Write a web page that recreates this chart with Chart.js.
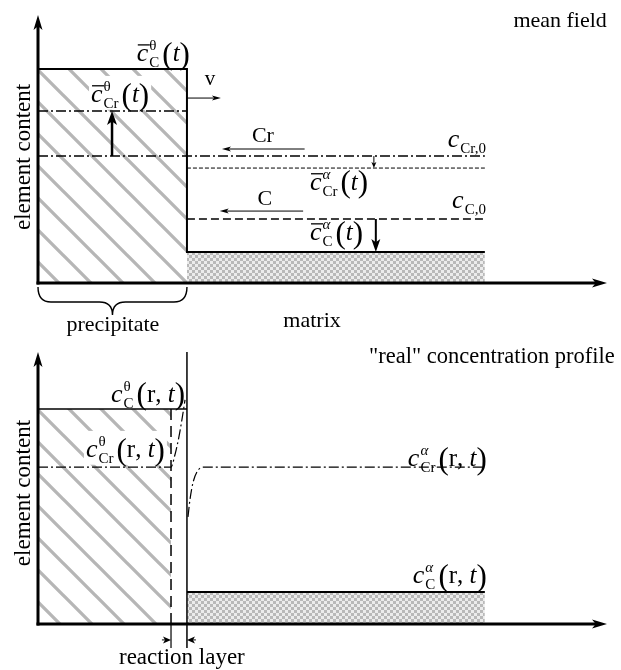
<!DOCTYPE html>
<html>
<head>
<meta charset="utf-8">
<script src="https://cdn.jsdelivr.net/npm/chart.js@4.4.1/dist/chart.umd.min.js"></script>
<style>
  html, body { margin: 0; padding: 0; background: #fff; }
  canvas { display: block; }
</style>
</head>
<body>
<canvas id="meanChart" width="621" height="340"></canvas>
<canvas id="realChart" width="621" height="330"></canvas>
<script>
// --- DATA ---
// x: distance (0..1 = precipitate, 1..3 = matrix), y: element content (precipitate C level = 1)
const xAxisMax = 3.82;
const meanYMax = 1.252;
const realYMax = 1.265;

// mean field panel
const meanProfileX = [0, 1, 1, 3];
const meanProfileY = [1, 1, 0.145, 0.145];
const meanPrecipX = [0, 1];
const meanPrecipY = [1, 1];
const meanMatrixX = [1, 3];
const meanMatrixY = [0.145, 0.145];
const meanCrThetaX = [0, 1];
const meanCrThetaY = [0.804, 0.804];
const crInitialX = [0, 3];
const crInitialY = [0.593, 0.593];
const meanCrAlphaX = [1, 3];
const meanCrAlphaY = [0.537, 0.537];
const cInitialX = [1, 3];
const cInitialY = [0.299, 0.299];

// "real" concentration profile panel
const realTopX = [0, 1];
const realTopY = [1, 1];
const realHatchX = [0, 0.893];
const realHatchY = [1, 1];
const interfaceX = [1, 1];
const interfaceY = [-0.112, 1.265];
const reactionX = [0.893, 0.893];
const reactionY = [0, 1];
const reactionTickX = [0.893, 0.893];
const reactionTickY = [0, -0.112];
const realMatrixX = [1, 3];
const realMatrixY = [0.149, 0.149];
const realCrThetaX = [0, 0.893, 0.919, 0.946, 0.966, 0.987];
const realCrThetaY = [0.73, 0.73, 0.786, 0.87, 0.949, 1.042];
const realCrAlphaX = [1.007, 1.02, 1.04, 1.067, 1.107, 3];
const realCrAlphaY = [0.498, 0.577, 0.656, 0.707, 0.73, 0.73];

const SERIF = '"Liberation Serif", "Times New Roman", serif';
const DASH_DOT = [10, 3, 2, 3];

function pts(xs, ys) {
  return xs.map((x, i) => ({ x: x, y: ys[i] }));
}

// --- PATTERNS ---
function hatchPattern() {
  const c = document.createElement('canvas');
  c.width = 32; c.height = 32;
  const g = c.getContext('2d');
  g.strokeStyle = '#b6b6b6';
  g.lineWidth = 3.3;
  g.beginPath();
  [-32, 0, 32].forEach(k => { g.moveTo(k - 4, -4); g.lineTo(k + 36, 36); });
  g.stroke();
  return g.createPattern(c, 'repeat');
}

function checkerPattern() {
  const c = document.createElement('canvas');
  c.width = 6; c.height = 6;
  const g = c.getContext('2d');
  g.fillStyle = '#ececec';
  g.fillRect(0, 0, 6, 6);
  g.fillStyle = '#b9b9b9';
  g.fillRect(0, 0, 3, 3);
  g.fillRect(3, 3, 3, 3);
  return g.createPattern(c, 'repeat');
}

const hatch = hatchPattern();
const checker = checkerPattern();

function line(xs, ys, width, dash, extra) {
  return Object.assign({
    data: pts(xs, ys),
    borderColor: '#000',
    borderWidth: width,
    borderDash: dash || [],
    pointRadius: 0,
    fill: false,
    tension: 0,
    order: 0
  }, extra || {});
}

function area(xs, ys, pattern) {
  return {
    data: pts(xs, ys),
    borderColor: 'rgba(0,0,0,0)',
    borderWidth: 0,
    backgroundColor: pattern,
    pointRadius: 0,
    fill: 'origin',
    order: 5
  };
}

// --- DRAWING HELPERS ---
function drawArrow(ctx, x1, y1, x2, y2, w, len, half) {
  const dx = x2 - x1, dy = y2 - y1, d = Math.hypot(dx, dy);
  const ux = dx / d, uy = dy / d;
  ctx.lineWidth = w;
  ctx.setLineDash([]);
  ctx.beginPath();
  ctx.moveTo(x1, y1);
  ctx.lineTo(x2 - ux * len * 0.7, y2 - uy * len * 0.7);
  ctx.stroke();
  ctx.beginPath();
  ctx.moveTo(x2, y2);
  ctx.lineTo(x2 - ux * len - uy * half, y2 - uy * len + ux * half);
  ctx.lineTo(x2 - ux * len * 0.75, y2 - uy * len * 0.75);
  ctx.lineTo(x2 - ux * len + uy * half, y2 - uy * len - ux * half);
  ctx.closePath();
  ctx.fill();
}

// concentration symbol: c (bar) ^sup _sub (args)
function drawConc(ctx, x, y, L) {
  const s = L.size || 26;
  const fC = `italic ${s}px ${SERIF}`;
  const fSub = `${Math.round(s * 0.56)}px ${SERIF}`;
  const fSup = `${L.supItalic ? 'italic ' : ''}${Math.round(s * 0.56)}px ${SERIF}`;
  const fPar = `${Math.round(s * 1.18)}px ${SERIF}`;
  const fArg = it => `${it ? 'italic ' : ''}${Math.round(s * 0.98)}px ${SERIF}`;

  ctx.font = fC;
  const wc = ctx.measureText('c').width;
  ctx.font = fSub;
  const wsub = L.sub ? ctx.measureText(L.sub).width : 0;
  ctx.font = fSup;
  const wsup = L.sup ? ctx.measureText(L.sup).width : 0;
  const wScript = Math.max(wsub, wsup);

  const parts = [];
  let wArg = 0;
  if (L.arg) {
    parts.push({ t: '(', f: fPar, dy: s * 0.1 });
    L.arg.forEach(p => parts.push({ t: p.t, f: fArg(p.i), dy: 0 }));
    parts.push({ t: ')', f: fPar, dy: s * 0.1 });
    parts.forEach(p => { ctx.font = p.f; p.w = ctx.measureText(p.t).width; wArg += p.w; });
  }
  const total = wc + 1 + wScript + (L.arg ? 3 + wArg : 0);
  const x0 = L.align === 'right' ? x - total : (L.align === 'center' ? x - total / 2 : x);

  if (L.bg) {
    ctx.fillStyle = '#fff';
    ctx.fillRect(x0 - 2, y - s * 1.0, total + 4, s * 1.3);
  }
  ctx.fillStyle = '#000';
  ctx.strokeStyle = '#000';
  ctx.textAlign = 'left';
  ctx.textBaseline = 'alphabetic';
  ctx.font = fC;
  ctx.fillText('c', x0, y);
  if (L.bar) {
    ctx.lineWidth = 1.3;
    ctx.setLineDash([]);
    ctx.beginPath();
    ctx.moveTo(x0 + 1, y - s * 0.62);
    ctx.lineTo(x0 + wc + 1.5, y - s * 0.62);
    ctx.stroke();
  }
  const xs = x0 + wc + 1;
  if (L.sup) { ctx.font = fSup; ctx.fillText(L.sup, xs, y - s * 0.42); }
  if (L.sub) { ctx.font = fSub; ctx.fillText(L.sub, xs, y + s * 0.22); }
  let xa = xs + wScript + 3;
  parts.forEach(p => { ctx.font = p.f; ctx.fillText(p.t, xa, y + p.dy); xa += p.w; });
}

// axes, arrows, labels, brace drawn through the chart's own scales
function decorPlugin(spec) {
  return {
    id: 'decor',
    afterDatasetsDraw(chart) {
      const ctx = chart.ctx;
      const sx = chart.scales.x, sy = chart.scales.y;
      const px = v => sx.getPixelForValue(v);
      const py = v => sy.getPixelForValue(v);
      ctx.save();
      ctx.fillStyle = '#000';
      ctx.strokeStyle = '#000';

      // axes with arrow heads
      const ox = px(0), oy = py(0);
      drawArrow(ctx, ox, oy + 1.5, ox, py(spec.yMax), 3, 15, 4.5);
      drawArrow(ctx, ox - 1.5, oy, px(xAxisMax), oy, 3, 15, 4.5);

      spec.arrows.forEach(a => {
        drawArrow(ctx, px(a.x1), py(a.y1), px(a.x2), py(a.y2), a.w, a.len, a.half);
      });

      if (spec.brace) {
        const b = spec.brace;
        const x1 = px(b.x1), x2 = px(b.x2), xm = (x1 + x2) / 2;
        const yt = py(b.yTop), ym = py(b.yMid), yk = py(b.yTip);
        ctx.lineWidth = 1.4;
        ctx.setLineDash([]);
        ctx.beginPath();
        ctx.moveTo(x1, yt);
        ctx.quadraticCurveTo(x1, ym, x1 + 13, ym);
        ctx.lineTo(xm - 13, ym);
        ctx.quadraticCurveTo(xm, ym, xm, yk);
        ctx.moveTo(x2, yt);
        ctx.quadraticCurveTo(x2, ym, x2 - 13, ym);
        ctx.lineTo(xm + 13, ym);
        ctx.quadraticCurveTo(xm, ym, xm, yk);
        ctx.stroke();
      }

      spec.texts.forEach(t => {
        ctx.font = `${t.size}px ${SERIF}`;
        ctx.fillStyle = '#000';
        if (t.rotate) {
          ctx.save();
          ctx.translate(px(t.x), py(t.y));
          ctx.rotate(-Math.PI / 2);
          ctx.textAlign = 'center';
          ctx.textBaseline = 'middle';
          ctx.fillText(t.text, 0, 0);
          ctx.restore();
        } else {
          ctx.textAlign = t.align || 'left';
          ctx.textBaseline = 'alphabetic';
          ctx.fillText(t.text, px(t.x), py(t.y));
        }
      });

      spec.symbols.forEach(L => drawConc(ctx, px(L.x), py(L.y), L));
      ctx.restore();
    }
  };
}

function makeChart(id, yMax, padding, datasets, spec) {
  spec.yMax = yMax;
  return new Chart(document.getElementById(id), {
    type: 'line',
    data: { datasets: datasets },
    options: {
      responsive: false,
      animation: false,
      events: [],
      layout: { padding: padding },
      plugins: { legend: { display: false }, tooltip: { enabled: false } },
      scales: {
        x: { type: 'linear', min: 0, max: xAxisMax, display: false },
        y: { type: 'linear', min: 0, max: yMax, display: false }
      }
    },
    plugins: [decorPlugin(spec)]
  });
}

// --- 1. MEAN FIELD ---
makeChart('meanChart', meanYMax, { left: 38, right: 14, top: 15, bottom: 57 }, [
  area(meanPrecipX, meanPrecipY, hatch),
  area(meanMatrixX, meanMatrixY, checker),
  line(meanProfileX, meanProfileY, 2),
  line(meanCrThetaX, meanCrThetaY, 1.5, DASH_DOT),
  line(crInitialX, crInitialY, 1.5, DASH_DOT),
  line(meanCrAlphaX, meanCrAlphaY, 1, [4, 2]),
  line(cInitialX, cInitialY, 1.5, [8, 4])
], {
  arrows: [
    { x1: 0.497, y1: 0.593, x2: 0.497, y2: 0.804, w: 2.5, len: 14, half: 5 },
    { x1: 2.255, y1: 0.593, x2: 2.255, y2: 0.537, w: 1, len: 6, half: 2.5 },
    { x1: 2.268, y1: 0.299, x2: 2.268, y2: 0.145, w: 2, len: 13, half: 4.5 },
    { x1: 1.79, y1: 0.626, x2: 1.235, y2: 0.626, w: 1, len: 9, half: 2.5 },
    { x1: 1.78, y1: 0.336, x2: 1.22, y2: 0.336, w: 1, len: 9, half: 2.5 },
    { x1: 1.0, y1: 0.864, x2: 1.228, y2: 0.864, w: 1, len: 9, half: 2.5 }
  ],
  brace: { x1: 0, x2: 1, yTop: -0.019, yMid: -0.089, yTip: -0.15 },
  texts: [
    { x: 3.819, y: 1.196, text: 'mean field', size: 22, align: 'right' },
    { x: 1.51, y: 0.659, text: 'Cr', size: 22, align: 'center' },
    { x: 1.523, y: 0.364, text: 'C', size: 22, align: 'center' },
    { x: 1.154, y: 0.925, text: 'v', size: 21, align: 'center' },
    { x: -0.097, y: 0.589, text: 'element content', size: 23, rotate: true },
    { x: 0.503, y: -0.224, text: 'precipitate', size: 22, align: 'center' },
    { x: 1.84, y: -0.206, text: 'matrix', size: 22, align: 'center' }
  ],
  symbols: [
    { x: 1.02, y: 1.037, bar: true, sup: 'θ', sub: 'C', arg: [{ t: 't', i: true }], align: 'right' },
    { x: 0.356, y: 0.846, bar: true, sup: 'θ', sub: 'Cr', arg: [{ t: 't', i: true }], align: 'left', bg: true },
    { x: 3.007, y: 0.636, sub: 'Cr,0', align: 'right' },
    { x: 1.826, y: 0.435, bar: true, sup: 'α', supItalic: true, sub: 'Cr', arg: [{ t: 't', i: true }], align: 'left' },
    { x: 3.007, y: 0.35, sub: 'C,0', align: 'right' },
    { x: 1.826, y: 0.201, bar: true, sup: 'α', supItalic: true, sub: 'C', arg: [{ t: 't', i: true }], align: 'left' }
  ]
});

// --- 2. "REAL" CONCENTRATION PROFILE ---
const rArg = [{ t: 'r', i: false }, { t: ', ', i: false }, { t: 't', i: true }];
makeChart('realChart', realYMax, { left: 38, right: 14, top: 12, bottom: 46 }, [
  area(realHatchX, realHatchY, hatch),
  area(realMatrixX, realMatrixY, checker),
  line(realTopX, realTopY, 1.5),
  line(interfaceX, interfaceY, 1.5, [], { clip: false }),
  line(reactionX, reactionY, 1.5, [11, 6]),
  line(reactionTickX, reactionTickY, 1.2, [], { clip: false }),
  line(realMatrixX, realMatrixY, 2),
  line(realCrThetaX, realCrThetaY, 1.2, DASH_DOT, { cubicInterpolationMode: 'monotone' }),
  line(realCrAlphaX, realCrAlphaY, 1.2, DASH_DOT, { cubicInterpolationMode: 'monotone' })
], {
  arrows: [
    { x1: 0.832, y1: -0.074, x2: 0.893, y2: -0.074, w: 1, len: 8, half: 3.5 },
    { x1: 1.06, y1: -0.074, x2: 1.0, y2: -0.074, w: 1, len: 8, half: 3.5 }
  ],
  texts: [
    { x: 3.872, y: 1.214, text: '"real" concentration profile', size: 22.5, align: 'right' },
    { x: -0.097, y: 0.609, text: 'element content', size: 23, rotate: true },
    { x: 0.966, y: -0.186, text: 'reaction layer', size: 23, align: 'center' }
  ],
  symbols: [
    { x: 0.987, y: 1.033, sup: 'θ', sub: 'C', arg: rArg, align: 'right' },
    { x: 0.852, y: 0.777, sup: 'θ', sub: 'Cr', arg: rArg, align: 'right', bg: true },
    { x: 3.013, y: 0.735, sup: 'α', supItalic: true, sub: 'Cr', arg: rArg, align: 'right' },
    { x: 3.013, y: 0.191, sup: 'α', supItalic: true, sub: 'C', arg: rArg, align: 'right' }
  ]
});
</script>
</body>
</html>
